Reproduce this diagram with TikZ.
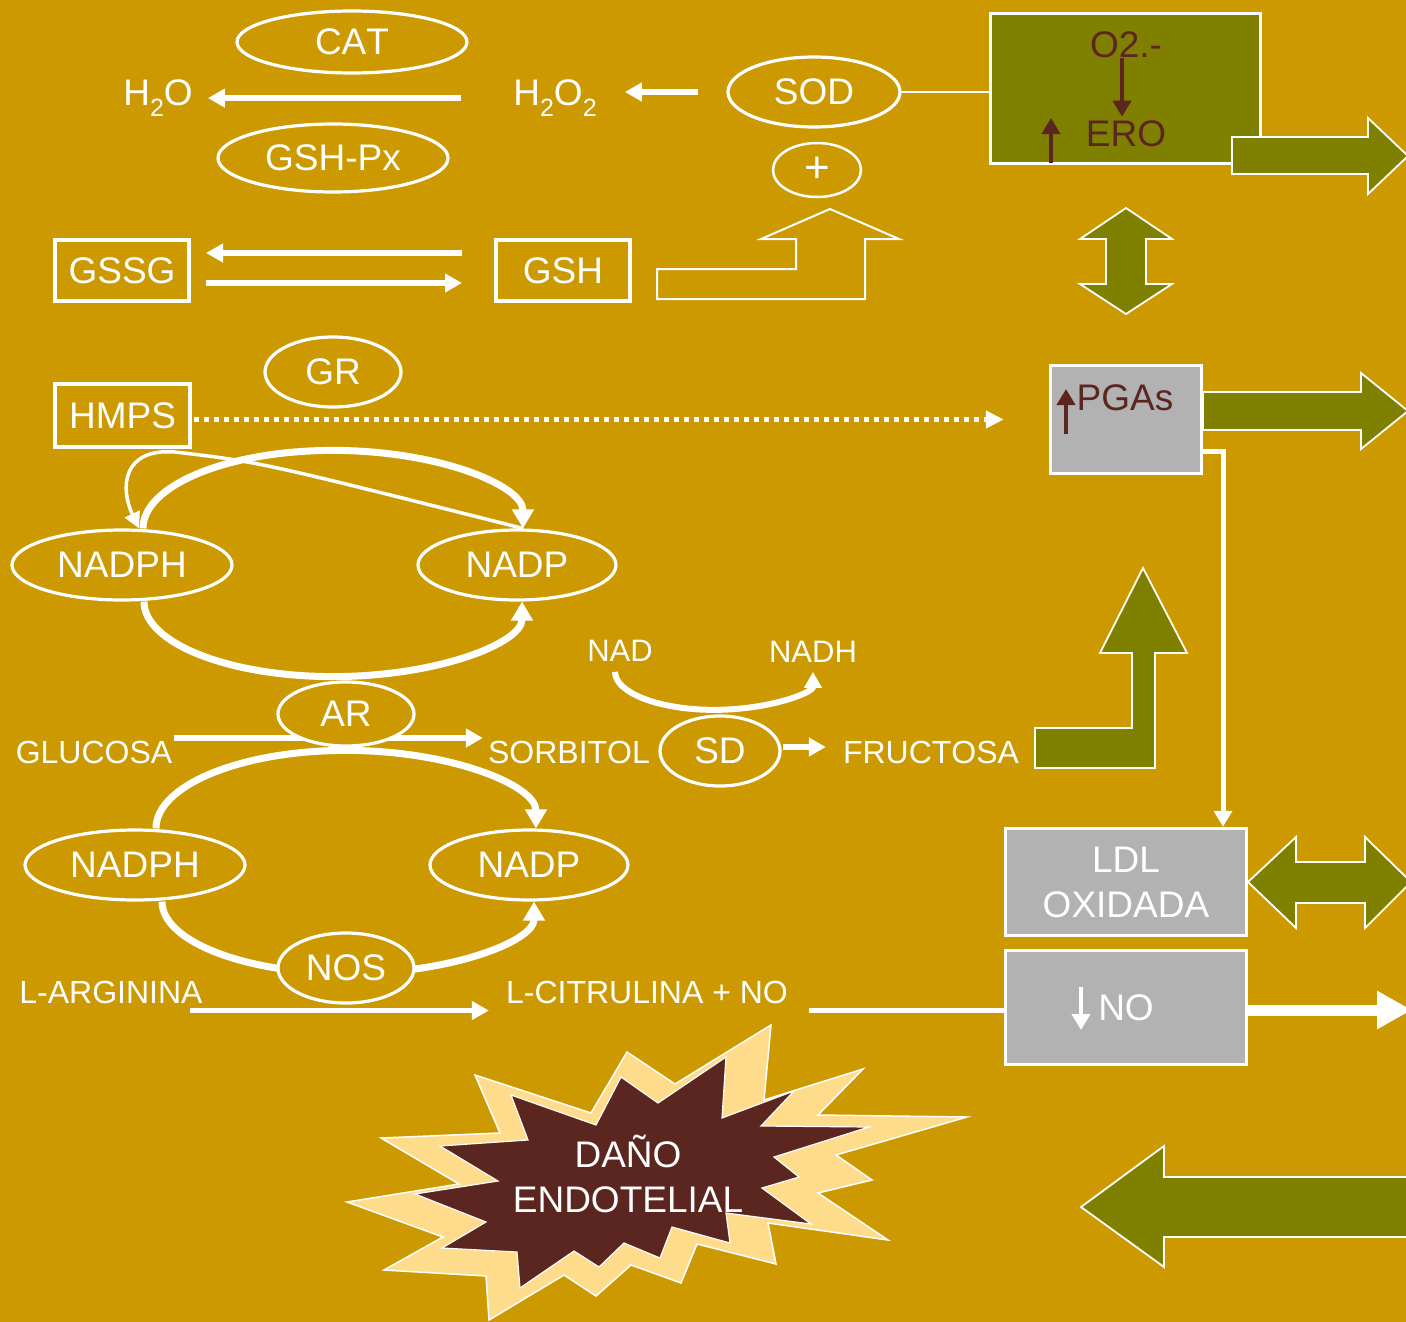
\documentclass[tikz,border=0pt]{standalone}
\usepackage{fontspec}
\setmainfont[Kerning=Off]{Liberation Sans}
\usetikzlibrary{shapes.geometric,arrows.meta,calc}
\definecolor{ochre}{HTML}{CC9900}
\definecolor{olivebar}{HTML}{808000}
\definecolor{boxgrey}{HTML}{B2B2B2}
\definecolor{rust}{HTML}{5C2620}
\definecolor{pale}{HTML}{FFDC8C}
\pgfdeclarelayer{paper}
\pgfdeclarelayer{under}
\pgfsetlayers{paper,under,main}
% lowered subscript digit for chemical formulas
\newcommand\lowtwo{\raisebox{-10pt}{\fontsize{25}{25}\selectfont 2}}

\begin{document}
\begin{tikzpicture}[x=1pt,y=1pt,
  biglbl/.style={font=\fontsize{37}{45}\selectfont, text=white, inner sep=0pt},
  smalllbl/.style={font=\fontsize{32}{36}\selectfont, text=white, inner sep=0pt},
  enz/.style={ellipse, draw=white, line width=3.2pt, fill=ochre, biglbl},
  wbox/.style={rectangle, draw=white, line width=4pt, biglbl},
  gbox/.style={rectangle, draw=white, fill=boxgrey, line width=3.5pt, inner sep=0pt},
  flow/.style={draw=white, line width=5.5pt, -{Triangle[length=17pt,width=18pt]}},
  cyc/.style={draw=white, line width=7pt, -{Triangle[length=19pt,width=21pt]}},
  rustarrow/.style={draw=rust, line width=4.5pt, -{Triangle[length=16pt,width=18pt]}},
  olivearrow/.style={fill=olivebar, draw=white, line width=1.8pt, line join=miter},
]
\begin{pgfonlayer}{paper}
  \fill[ochre] (0,0) rectangle (1406,-1322);
\end{pgfonlayer}
\useasboundingbox (0,0) rectangle (1406,-1322);

% ---------- antioxidant enzymes ----------
\node[enz, minimum width=230pt, minimum height=62pt] (cat) at (352,-42) {CAT};
\node[enz, minimum width=230pt, minimum height=68pt] (gshpx) at (333,-158) {GSH-Px};
\node[biglbl, anchor=base] (h2o) at (158,-106) {H\lowtwo O};
\node[biglbl, anchor=base] (h2o2) at (555,-106) {H\lowtwo O\lowtwo};
\node[enz, minimum width=172pt, minimum height=70pt] (sod) at (814,-92) {SOD};
\node[enz, line width=2.5pt, minimum width=88pt, minimum height=54pt,
      font=\fontsize{44}{44}\selectfont] (plus) at (817,-170) {+};
\node[wbox, minimum width=134pt, minimum height=61pt] (gssg) at (122,-270.5) {GSSG};
\node[wbox, minimum width=134pt, minimum height=61pt] (gsh) at (563,-270.5) {GSH};
\node[enz, minimum width=136pt, minimum height=70pt] (gr) at (333,-372) {GR};
\node[wbox, minimum width=135pt, minimum height=63pt] (hmps) at (122.5,-415.5) {HMPS};

% ---------- reactive oxygen species box ----------
\node[rectangle, draw=white, fill=olivebar, line width=3.5pt,
      minimum width=270pt, minimum height=150pt] (erobox) at (1125.5,-88.5) {};
\node[biglbl, text=rust] (o2) at (1126,-45) {O2.-};
\node[biglbl, text=rust] (ero) at (1126,-134) {ERO};
\draw[rustarrow, shorten >=4pt] ([xshift=-4pt]o2.south) -- ([xshift=-4pt]ero.north);
\draw[rustarrow] (1051,-163) -- (1051,-118);

% ---------- right column boxes ----------
\node[gbox, minimum width=151pt, minimum height=108pt] (pgas) at (1126,-419.5) {};
\node[biglbl, text=rust] (pgatxt) at (1125,-397.5) {PGAs};
\draw[rustarrow] (1066,-434) -- (1066,-389);
\node[gbox, biglbl, align=center, minimum width=241pt, minimum height=107pt] (ldl) at (1126,-882) {LDL\\OXIDADA};
\node[gbox, biglbl, minimum width=241pt, minimum height=114pt] (nobox) at (1126,-1007.5) {NO};
\draw[white, line width=4.5pt, -{Triangle[length=16pt,width=18pt]}] (1081,-987) -- (1081,-1030);

% ---------- polyol and NO pathways ----------
\node[enz, minimum width=220pt, minimum height=70pt] (nadph1) at (122,-565) {NADPH};
\node[enz, minimum width=198pt, minimum height=70pt] (nadp1) at (517,-565) {NADP};
\node[enz, minimum width=136pt, minimum height=64pt] (ar) at (346,-714) {AR};
\node[enz, minimum width=120pt, minimum height=70pt] (sd) at (720,-751) {SD};
\node[enz, minimum width=220pt, minimum height=70pt] (nadph2) at (135,-865) {NADPH};
\node[enz, minimum width=198pt, minimum height=70pt] (nadp2) at (529,-865) {NADP};
\node[enz, minimum width=136pt, minimum height=70pt] (nos) at (346,-968) {NOS};

\node[smalllbl] (gluc) at (94,-752) {GLUCOSA};
\node[smalllbl] (sorb) at (569,-752) {SORBITOL};
\node[smalllbl] (fruc) at (931,-752) {FRUCTOSA};
\node[smalllbl, font=\fontsize{31}{34}\selectfont] (nad) at (620,-651) {NAD};
\node[smalllbl, font=\fontsize{31}{34}\selectfont] (nadh) at (813,-652) {NADH};
\node[smalllbl] (larg) at (111,-992) {L-ARGININA};
\node[smalllbl] (lcit) at (647,-992) {L-CITRULINA + NO};

% ---------- connectors (beneath the nodes) ----------
\begin{pgfonlayer}{under}
  \draw[flow, shorten <=52pt, shorten >=15pt] (h2o2.west) -- (h2o2.west -| h2o.east);
  \draw[flow, shorten <=28pt, shorten >=28pt] (sod.west) -- (sod.west -| h2o2.east);
  \draw[white, line width=1.5pt] (sod.east) -- (sod.east -| erobox.west);
  \draw[flow] ($(gsh.west)+(-32,17.5)$) -- ($(gssg.east)+(15,17.5)$);
  \draw[flow] ($(gssg.east)+(15,-12.5)$) -- ($(gsh.west)+(-32,-12.5)$);
  \draw[white, line width=5pt, dash pattern=on 5pt off 5pt, shorten >=45pt,
        -{Triangle[length=18pt,width=17pt]}]
        ($(hmps.east)+(2,-4)$) -- ($(hmps.east -| pgas.west)+(0,-4)$);
  \draw[white, line width=5pt, -{Triangle[length=16pt,width=18pt]}]
        ($(pgas.east)+(0,-31.5)$) -| ($(ldl.north)+(97,0)$);

  % hexose monophosphate shunt feeding NADPH / NADP
  \coordinate (hsplit) at ($(hmps.south east)+(-17,-3)$);
  \draw[white, line width=3.5pt, -{Triangle[length=16pt,width=16pt]}]
        (hsplit) .. controls (122,-448) and (120,-488) .. ($(nadph1.north)+(17,0)$);
  \draw[white, line width=3.5pt] (hsplit) .. controls (260,-462) .. ($(nadp1.north)+(6,0)$);
  \draw[cyc] ($(nadph1.north)+(21,0)$) arc[start angle=180, end angle=0, x radius=190pt, y radius=78pt];
  \draw[cyc] ($(nadph1.south)+(22,0)$) arc[start angle=180, end angle=360, x radius=189pt, y radius=75pt];

  % polyol pathway
  \draw[flow] ($(gluc.east)+(2,14)$) -- ($(sorb.west)+(-5,14)$);
  \draw[flow] ($(sd.east)+(1,4)$) -- ($(sd.east -| fruc.west)+(-17,4)$);
  \draw[white, line width=6pt, -{Triangle[length=16pt,width=17pt]}]
        ($(nad.south)+(-5,-10)$) arc[start angle=180, end angle=360, x radius=99pt, y radius=38pt];
  \draw[cyc] ($(nadph2.north)+(21,0)$) arc[start angle=180, end angle=0, x radius=190pt, y radius=78pt];
  \draw[cyc] ($(nadph2.south)+(27,0)$) arc[start angle=180, end angle=360, x radius=186pt, y radius=72pt];

  % nitric oxide synthase reaction
  \draw[white, line width=5pt, -{Triangle[length=17pt,width=18pt]}]
        ($(larg.south east)+(-13,-7)$) -- ($(larg.south east -| lcit.west)+(-17,-7)$);
  \draw[white, line width=5pt] ($(lcit.south east)+(21,-7)$) -- ($(lcit.south east -| nobox.west)+(0,-7)$);
\end{pgfonlayer}

\coordinate (noout) at (1412,-1010);
\draw[white, line width=11pt, -{Triangle[length=35pt,width=36pt]}] (noout -| nobox.east) -- (noout);

% ---------- block arrows ----------
\draw[white, line width=2pt, line join=miter]
  (657,-299) -- (865,-299) -- (865,-239) -- (899,-239) -- (830,-209) -- (761,-239)
  -- (796,-239) -- (796,-269) -- (657,-269) -- cycle;
\draw[olivearrow] (1232,-137) -- (1368,-137) -- (1368,-118) -- (1408,-156) -- (1368,-194)
  -- (1368,-174) -- (1232,-174) -- cycle;
\draw[olivearrow] (1126,-208) -- (1172,-239) -- (1146,-239) -- (1146,-284) -- (1172,-284)
  -- (1126,-314) -- (1080,-284) -- (1106,-284) -- (1106,-239) -- (1080,-239) -- cycle;
\draw[olivearrow] (1203,-392) -- (1361,-392) -- (1361,-373) -- (1408,-411) -- (1361,-449)
  -- (1361,-430) -- (1203,-430) -- cycle;
\draw[olivearrow] (1035,-768) -- (1155,-768) -- (1155,-653) -- (1187,-653) -- (1143,-568)
  -- (1100,-653) -- (1132,-653) -- (1132,-728) -- (1035,-728) -- cycle;
\draw[olivearrow] (1248,-882) -- (1296,-837) -- (1296,-862) -- (1365,-862) -- (1365,-837)
  -- (1411,-882) -- (1365,-928) -- (1365,-903) -- (1296,-903) -- (1296,-928) -- cycle;
\draw[olivearrow] (1081,-1207) -- (1164,-1146) -- (1164,-1177) -- (1412,-1177) -- (1412,-1237)
  -- (1164,-1237) -- (1164,-1267) -- cycle;

% ---------- endothelial damage burst ----------
\draw[fill=pale, draw=white, line width=1.5pt, line join=miter]
  (475,-1075) -- (591,-1113) -- (627,-1052) -- (675,-1084) -- (771,-1025) -- (764,-1100)
  -- (863,-1069) -- (818,-1115) -- (967,-1117) -- (836,-1155) -- (872,-1180) -- (818,-1193)
  -- (888,-1240) -- (768,-1223) -- (776,-1264) -- (697,-1244) -- (681,-1283) -- (631,-1265)
  -- (596,-1296) -- (564,-1275) -- (489,-1320) -- (486,-1276) -- (384,-1270) -- (443,-1237)
  -- (347,-1202) -- (459,-1184) -- (381,-1138) -- (500,-1133) -- cycle;
\draw[fill=rust, draw=white, line width=1.2pt, line join=miter]
  (511,-1095) -- (596,-1125) -- (621,-1077) -- (658,-1103) -- (726,-1057) -- (722,-1118)
  -- (794,-1091) -- (761,-1126) -- (869,-1127) -- (774,-1157) -- (799,-1177) -- (762,-1188)
  -- (811,-1224) -- (726,-1213) -- (730,-1243) -- (672,-1227) -- (660,-1258) -- (624,-1243)
  -- (599,-1267) -- (574,-1251) -- (520,-1288) -- (517,-1252) -- (442,-1248) -- (486,-1222)
  -- (415,-1194) -- (498,-1181) -- (440,-1146) -- (528,-1140) -- cycle;
\node[biglbl, align=center] (dano) at (628,-1174) {DAÑO\\ENDOTELIAL};
\end{tikzpicture}
\end{document}
